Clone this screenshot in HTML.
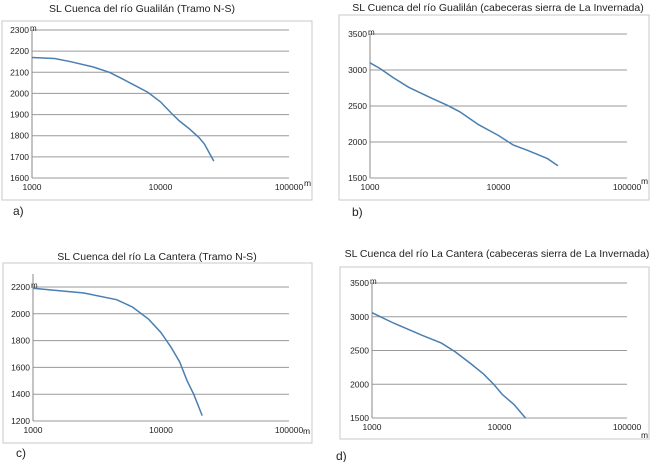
<!DOCTYPE html>
<html><head><meta charset="utf-8"><style>
body{margin:0;width:650px;height:462px;background:#fff;overflow:hidden;font-family:"Liberation Sans",sans-serif}
svg{display:block}
</style></head><body>
<svg id="s" width="650" height="462"></svg>
<script>
const aX=[1000,1500,2000,3000,4000,5000,6000,8000,10000,12000,14000,17000,20000,22000,26000];
const aY=[2170,2165,2150,2125,2100,2070,2045,2005,1960,1910,1870,1830,1790,1760,1680];
const bX=[1000,1200,1500,2000,3000,4000,5000,7000,10000,13000,17000,24000,29000];
const bY=[3100,3020,2900,2760,2610,2510,2420,2240,2090,1960,1880,1770,1670];
const cX=[1000,1500,2500,4500,6000,8000,10000,12000,14000,16000,18000,21000];
const cY=[2190,2175,2155,2105,2050,1960,1860,1750,1640,1500,1400,1240];
const dX=[1000,1500,2500,3500,4500,6000,7500,9000,10500,13000,16000];
const dY=[3060,2900,2720,2610,2480,2300,2150,2000,1850,1700,1500];
const aTicks=[1600,1700,1800,1900,2000,2100,2200,2300];
const bTicks=[1500,2000,2500,3000,3500];
const cTicks=[1200,1400,1600,1800,2000,2200];
const dTicks=[1500,2000,2500,3000,3500];
const xTicks=[1000,10000,100000];
const NS="http://www.w3.org/2000/svg";
const svg=document.getElementById('s');
function el(t,a,p){const e=document.createElementNS(NS,t);for(const k in a)e.setAttribute(k,a[k]);(p||svg).appendChild(e);return e;}
function txt(x,y,s,size,anchor,p){const e=el('text',{x:x,y:y,'font-size':size,'text-anchor':anchor||'start',fill:'#222'},p);e.textContent=s;return e;}
function panel(cfg){
  const g=el('g',{});
  
  
  const fr=el('rect',{x:cfg.fx,y:cfg.fy,width:cfg.fw,height:cfg.fh,fill:'none',stroke:'#c8c8c8'},g);
  
  const t=txt(cfg.tx,cfg.ty,cfg.title,10.5,'middle',g);
  
  const lx=v=>cfg.x0+(Math.log10(v)-3)/2*(cfg.x1-cfg.x0);
  const ly=v=>cfg.y0+(v-cfg.ymin)/(cfg.ymax-cfg.ymin)*(cfg.y1-cfg.y0);
  cfg.yt.forEach((v,i)=>{
    const gl=el('line',{x1:cfg.x0,x2:cfg.x1,y1:ly(v),y2:ly(v),stroke:'#9a9a9a','stroke-width':1},g);
    
    const l=txt(cfg.x0-3,ly(v)+3,String(v),8.5,'end',g);
    
    if(i===cfg.yt.length-1){const m=txt(cfg.x0-2,ly(v)+1,'m',8,'start',g);}
  });
  const ya=el('line',{x1:cfg.x0,x2:cfg.x0,y1:cfg.yaxTop,y2:cfg.y0,stroke:'#8a8a8a'},g);
  
  xTicks.forEach(v=>{
    const l=txt(lx(v),cfg.y0+12,String(v),8.5,'middle',g);
    
  });
  const xu=txt(cfg.xux,cfg.xuy,'m',8.5,'start',g);
  
  const pts=cfg.xs.map((x,i)=>lx(x).toFixed(1)+','+ly(cfg.ys[i]).toFixed(1)).join(' ');
  const pl=el('polyline',{points:pts,fill:'none',stroke:'#4a7fb0','stroke-width':1.5},g);
  
  const lab=txt(cfg.lx,cfg.ly,cfg.label,12,'start',g);
  
}
panel({name:'chart-a',fx:2,fy:21,fw:310,fh:179,tx:142,ty:12,title:'SL Cuenca del río Gualilán (Tramo N-S)',
 x0:32,x1:289,y0:178,y1:30,ymin:1600,ymax:2300,yt:aTicks,yaxTop:30,xs:aX,ys:aY,xux:304,xuy:186,lx:13,ly:215,label:'a)'});
panel({name:'chart-b',fx:339,fy:15,fw:310,fh:185,tx:498,ty:11,title:'SL Cuenca del río Gualilán (cabeceras sierra de La Invernada)',
 x0:370,x1:627,y0:178,y1:34,ymin:1500,ymax:3500,yt:bTicks,yaxTop:34,xs:bX,ys:bY,xux:641,xuy:184,lx:352,ly:216,label:'b)'});
panel({name:'chart-c',fx:3,fy:263,fw:309,fh:180,tx:157,ty:260,title:'SL Cuenca del río La Cantera (Tramo N-S)',
 x0:33,x1:289,y0:421,y1:287,ymin:1200,ymax:2200,yt:cTicks,yaxTop:274,xs:cX,ys:cY,xux:303,xuy:434,lx:16,ly:457,label:'c)'});
panel({name:'chart-d',fx:340,fy:267,fw:309,fh:172,tx:497,ty:257,title:'SL Cuenca del río La Cantera (cabeceras sierra de La Invernada)',
 x0:372,x1:627,y0:418,y1:283,ymin:1500,ymax:3500,yt:dTicks,yaxTop:283,xs:dX,ys:dY,xux:641,xuy:438,lx:336,ly:460,label:'d)'});
</script>
</body></html>
